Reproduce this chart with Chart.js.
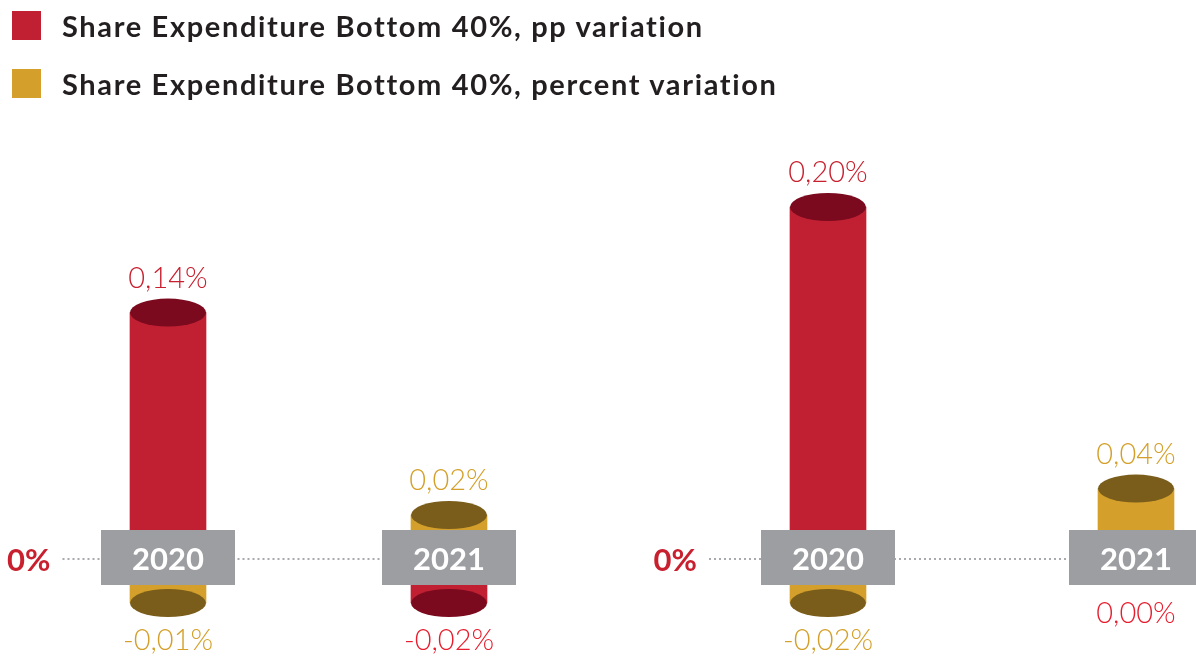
<!DOCTYPE html>
<html>
<head>
<meta charset="utf-8">
<script src="https://cdn.jsdelivr.net/npm/chart.js@4.4.1/dist/chart.umd.min.js"></script>
<style>
  html, body { margin: 0; padding: 0; background: #fff; width: 1196px; height: 660px; overflow: hidden; }
  #wrap { position: relative; width: 1196px; height: 660px; overflow: hidden; }
  canvas { position: absolute; top: 0; }
  #cLeft { left: 0; }
  #cRight { left: 640px; }
  .leg { position: absolute; left: 0; height: 30px; font-family: Lato, "Open Sans", sans-serif; font-weight: 700; font-size: 29px; letter-spacing: 1.65px; color: #231f20; white-space: nowrap; z-index: 2; }
  .leg .sw { position: absolute; left: 12px; top: 0; width: 29px; height: 29px; }
  .leg .tx { position: absolute; left: 62px; top: -3px; line-height: 36px; }
</style>
</head>
<body>
<div id="wrap">
  <canvas id="cLeft" width="600" height="660"></canvas>
  <canvas id="cRight" width="660" height="660"></canvas>
  <div class="leg" id="leg0" style="top:11px;"><div class="sw"></div><div class="tx"></div></div>
  <div class="leg" id="leg1" style="top:69px;"><div class="sw"></div><div class="tx"></div></div>
</div>
<script>
// ---- data ----
const categories = ['2020', '2021'];
const seriesNames = ['Share Expenditure Bottom 40%, pp variation', 'Share Expenditure Bottom 40%, percent variation'];
const leftPP = [0.14, -0.02];
const leftPct = [-0.01, 0.02];
const rightPP = [0.20, 0.00];
const rightPct = [-0.02, 0.04];
const zeroTickLabel = '0%';

// ---- styles ----
const RED = '#c12032';
const RED_DARK = '#7b0a1e';
const RED_LABEL_POS = '#c8202f';
const RED_LABEL_NEG = '#e81d2d';
const GOLD = '#d4a02b';
const GOLD_DARK = '#7a5d1a';
const GOLD_LABEL = '#d4a02b';
const BOX = '#9d9ea2';
const RY = 14;

// legend
[0, 1].forEach(i => {
  const el = document.getElementById('leg' + i);
  el.querySelector('.sw').style.background = i === 0 ? RED : GOLD;
  el.querySelector('.tx').textContent = seriesNames[i];
});

function fmt(v) {
  return (v < 0 ? '-' : '') + Math.abs(v).toFixed(2).replace('.', ',') + '%';
}

const cylPlugin = {
  id: 'cyl',
  beforeDatasetsDraw(chart) {
    const ctx = chart.ctx;
    const y0 = chart.scales.y.getPixelForValue(0);
    const xs = chart.scales.x;
    const xEnd = xs.getPixelForValue(categories.length - 1);
    ctx.save();
    ctx.strokeStyle = '#a9aaad';
    ctx.lineWidth = 2;
    ctx.setLineDash([2, 3]);
    ctx.beginPath();
    ctx.moveTo(chart.chartArea.left + 35, y0);
    ctx.lineTo(xEnd, y0);
    ctx.stroke();
    ctx.restore();
  },
  afterDatasetsDraw(chart) {
    const ctx = chart.ctx;
    const y0 = chart.scales.y.getPixelForValue(0);
    const xs = chart.scales.x;
    ctx.save();
    // ellipse caps
    chart.data.datasets.forEach((ds, di) => {
      const meta = chart.getDatasetMeta(di);
      meta.data.forEach((bar, i) => {
        const v = ds.data[i];
        if (v === 0) return;
        ctx.fillStyle = ds.capColor;
        ctx.beginPath();
        ctx.ellipse(bar.x, bar.y, bar.width / 2, RY, 0, 0, Math.PI * 2);
        ctx.fill();
      });
    });
    // category boxes
    categories.forEach((c, i) => {
      const x = xs.getPixelForValue(i);
      ctx.fillStyle = BOX;
      ctx.fillRect(x - 67, y0 - 29, 134, 55);
      ctx.fillStyle = '#ffffff';
      ctx.font = '700 31px Lato, "Open Sans", sans-serif';
      ctx.textAlign = 'center';
      ctx.textBaseline = 'alphabetic';
      ctx.fillText(c, x, y0 + 11);
    });
    // zero label
    ctx.fillStyle = RED_LABEL_POS;
    ctx.font = '700 31px Lato, "Open Sans", sans-serif';
    ctx.textAlign = 'right';
    ctx.fillText(zeroTickLabel, chart.chartArea.left + 23, y0 + 12);
    // value labels
    ctx.font = '300 29px Lato, "Open Sans", sans-serif';
    ctx.textAlign = 'center';
    chart.data.datasets.forEach((ds, di) => {
      const meta = chart.getDatasetMeta(di);
      meta.data.forEach((bar, i) => {
        const v = ds.data[i];
        let y;
        if (v > 0) {
          ctx.fillStyle = ds.labelPos;
          y = bar.y - RY - 11;
        } else if (v < 0) {
          ctx.fillStyle = ds.labelNeg;
          y = bar.y + RY + 33;
        } else {
          ctx.fillStyle = ds.labelNeg;
          y = y0 + 64;
        }
        ctx.fillText(fmt(v), bar.x, y);
      });
    });
    ctx.restore();
  }
};

function makeChart(id, pp, pct, padLeft, padRight) {
  return new Chart(document.getElementById(id), {
    type: 'bar',
    data: {
      labels: categories,
      datasets: [
        {
          label: seriesNames[0],
          data: pp,
          backgroundColor: (c) => (c.raw === 0 ? 'rgba(0,0,0,0)' : RED),
          capColor: RED_DARK, labelPos: RED_LABEL_POS, labelNeg: RED_LABEL_NEG,
          grouped: false, barThickness: 76, minBarLength: 44, borderWidth: 0
        },
        {
          label: seriesNames[1],
          data: pct,
          backgroundColor: (c) => (c.raw === 0 ? 'rgba(0,0,0,0)' : GOLD),
          capColor: GOLD_DARK, labelPos: GOLD_LABEL, labelNeg: GOLD_LABEL,
          grouped: false, barThickness: 76, minBarLength: 44, borderWidth: 0
        }
      ]
    },
    options: {
      responsive: false,
      animation: false,
      devicePixelRatio: 1,
      layout: { padding: { top: 31, bottom: 13, left: padLeft, right: padRight } },
      plugins: { legend: { display: false }, tooltip: { enabled: false } },
      scales: {
        x: { display: false, offset: true },
        y: { display: false, min: -0.05, max: 0.30 }
      }
    },
    plugins: [cylPlugin]
  });
}

makeChart('cLeft', leftPP, leftPct, 27.5, 10.5);
makeChart('cRight', rightPP, rightPct, 34, 10);
</script>
</body>
</html>
